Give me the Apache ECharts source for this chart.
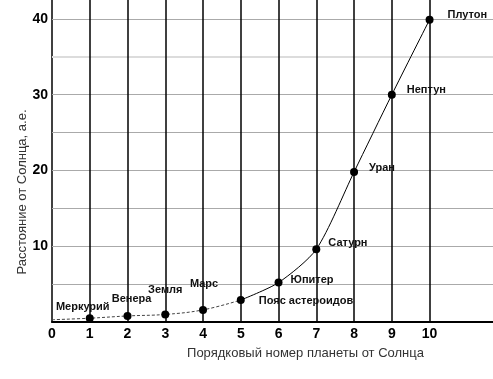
<!DOCTYPE html>
<html><head><meta charset="utf-8">
<script src="https://cdn.jsdelivr.net/npm/echarts@6/dist/echarts.min.js"></script>
<style>html,body{margin:0;padding:0;background:#fff}#c{width:493px;height:379px}</style>
</head><body><div id="c"></div>
<script>
// Data
const planets = ['', 'Меркурий', 'Венера', 'Земля', 'Марс', 'Пояс астероидов', 'Юпитер', 'Сатурн', 'Уран', 'Нептун', 'Плутон'];
const order = [0, 1, 2, 3, 4, 5, 6, 7, 8, 9, 10];
const distance = [0.3, 0.5, 0.8, 1.0, 1.6, 2.9, 5.2, 9.6, 19.8, 30.0, 39.9];
const xTicks = [0, 1, 2, 3, 4, 5, 6, 7, 8, 9, 10];
const yTicks = [10, 20, 30, 40];
const verticalLines = [1, 2, 3, 4, 5, 6, 7, 8, 9, 10];
const horizontalLines = [5, 10, 15, 20, 25, 30, 35, 40];
const xTitle = 'Порядковый номер планеты от Солнца';
const yTitle = 'Расстояние от Солнца, а.е.';

// Label layout (styling, not data)
const labelLayout = {
  'Меркурий': {align: 'center', offset: [-7, -11]},
  'Венера': {align: 'center', offset: [4, -17]},
  'Земля': {align: 'center', offset: [0, -24]},
  'Марс': {align: 'center', offset: [1, -26]},
  'Пояс астероидов': {align: 'left', offset: [18, 1]},
  'Юпитер': {align: 'left', offset: [12, -3]},
  'Сатурн': {align: 'left', offset: [12, -6]},
  'Уран': {align: 'left', offset: [15, -4]},
  'Нептун': {align: 'left', offset: [15, -5]},
  'Плутон': {align: 'left', offset: [18, -5]}
};

function makePoint(i) {
  const name = planets[i];
  const item = {value: [order[i], distance[i]], name: name};
  if (!name) {
    item.symbol = 'none';
    item.label = {show: false};
  } else {
    const l = labelLayout[name];
    item.label = {show: true, position: 'inside', align: l.align, verticalAlign: 'middle', offset: l.offset};
  }
  return item;
}
const idxLow = order.filter(o => o <= 5);
const idxHigh = order.filter(o => o >= 5);
const lowData = idxLow.map(makePoint);
const highData = idxHigh.map(i => { const p = makePoint(i); if (i === 5) { p.label = {show: false}; p.symbol = 'none'; } return p; });

const chart = echarts.init(document.getElementById('c'), null, {renderer: 'canvas'});
const font = '"Liberation Sans", Arial, sans-serif';
const pointLabel = {color: '#111', fontFamily: font, fontWeight: 'bold', fontSize: 11, formatter: '{b}'};
chart.setOption({
  animation: false,
  backgroundColor: '#fff',
  grid: {left: 52, right: 0, top: 0, bottom: 57, containLabel: false},
  xAxis: {
    type: 'value', min: 0, max: 11.68, interval: 1,
    axisLine: {show: true, lineStyle: {color: '#000', width: 2}},
    axisTick: {show: false},
    splitLine: {show: false},
    axisLabel: {
      margin: 5, color: '#000', fontFamily: font, fontWeight: 'bold', fontSize: 14,
      showMaxLabel: false,
      formatter: v => xTicks.indexOf(v) >= 0 ? String(v) : ''
    },
    name: xTitle, nameLocation: 'middle', nameGap: 25, nameMoveOverlap: false,
    nameTextStyle: {color: '#333', fontFamily: font, fontSize: 13, padding: [0, 0, 0, 66]}
  },
  yAxis: {
    type: 'value', min: 0, max: 42.5, interval: 10,
    axisLine: {show: true, lineStyle: {color: '#000', width: 1.5}},
    axisTick: {show: false},
    splitLine: {show: false},
    axisLabel: {
      margin: 4, color: '#000', fontFamily: font, fontWeight: 'bold', fontSize: 14,
      showMaxLabel: false,
      formatter: v => yTicks.indexOf(v) >= 0 ? String(v) : ''
    },
    name: yTitle, nameLocation: 'middle', nameGap: 23, nameMoveOverlap: false,
    nameTextStyle: {color: '#333', fontFamily: font, fontSize: 13, padding: [0, 62, 0, 0]}
  },
  series: [
    {
      type: 'line', data: [], silent: true,
      markLine: {
        silent: true, symbol: ['none', 'none'], label: {show: false},
        data: horizontalLines.map(v => ({yAxis: v, lineStyle: {color: v === 35 ? '#dcdcdc' : '#aaaaaa', width: v === 35 ? 2 : 1, type: 'solid'}}))
      }
    },
    {
      type: 'line', data: [], silent: true,
      markLine: {
        silent: true, symbol: ['none', 'none'], label: {show: false},
        lineStyle: {color: '#000', width: 1.5, type: 'solid'},
        data: verticalLines.map(v => ({xAxis: v}))
      }
    },
    {
      type: 'line', data: lowData, smooth: 0.4,
      symbol: 'circle', symbolSize: 8,
      itemStyle: {color: '#000'},
      lineStyle: {color: '#444', width: 1, type: [3, 2]},
      label: pointLabel,
      z: 5
    },
    {
      type: 'line', data: highData, smooth: 0.25,
      symbol: 'circle', symbolSize: 8,
      itemStyle: {color: '#000'},
      lineStyle: {color: '#000', width: 1, type: 'solid'},
      label: pointLabel,
      z: 5
    }
  ]
});
</script>
</body></html>
